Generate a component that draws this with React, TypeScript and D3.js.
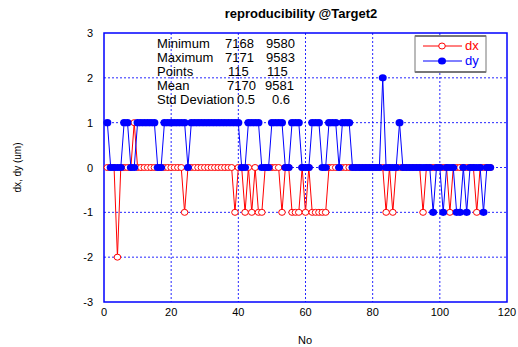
import React from "react";
import * as d3 from "d3";

// Sample numbers 1..115
const sampleNo: number[] = d3.range(1, 116);

// dx deviation per sample (um)
const dxValues: number[] = [
  0, 0, 0, -2, 0, 0, 0, 0, 1, 0, // 1-10
  0, 0, 0, 0, 0, 0, 0, 0, 0, 0, // 11-20
  0, 0, 0, -1, 0, 0, 0, 0, 0, 0, // 21-30
  0, 0, 0, 0, 0, 0, 0, 0, -1, 0, // 31-40
  0, -1, 0, -1, 0, -1, -1, 0, 0, 0, // 41-50
  0, 0, -1, 0, 0, -1, -1, -1, 0, -1, // 51-60
  0, -1, -1, -1, -1, -1, 0, 0, 0, 0, // 61-70
  0, 0, 0, 0, 0, 0, 0, 0, 0, 0, // 71-80
  0, 0, 0, -1, 0, -1, 0, 0, 0, 0, // 81-90
  0, 0, 0, 0, -1, 0, 0, 0, 0, 0, // 91-100
  0, 0, -1, 0, 0, 0, 0, 0, 0, 0, // 101-110
  -1, 0, 0, 0, 0, // 111-115
];

// dy deviation per sample (um)
const dyValues: number[] = [
  1, 0, 0, 0, 0, 1, 1, 0, 0, 1, // 1-10
  1, 1, 1, 1, 1, 0, 0, 1, 1, 1, // 11-20
  1, 1, 1, 1, 0, 1, 1, 1, 1, 1, // 21-30
  1, 1, 1, 1, 1, 1, 1, 1, 1, 1, // 31-40
  0, 0, 1, 1, 1, 1, 0, 0, 0, 1, // 41-50
  1, 1, 1, 0, 0, 1, 1, 1, 0, 0, // 51-60
  0, 1, 1, 1, 0, 0, 1, 1, 1, 0, // 61-70
  1, 1, 1, 0, 0, 0, 0, 0, 0, 0, // 71-80
  0, 0, 2, 0, 0, 0, 0, 1, 0, 0, // 81-90
  0, 0, 0, 0, 0, 0, 0, -1, 0, 0, // 91-100
  -1, 0, 0, 0, -1, -1, 0, -1, 0, 0, // 101-110
  0, 0, -1, 0, 0, // 111-115
];

const xTicks: number[] = [0, 20, 40, 60, 80, 100, 120];
const yTicks: number[] = [-3, -2, -1, 0, 1, 2, 3];

// Summary table: label, dx column, dy column
const statLabels: string[] = ["Minimum", "Maximum", "Points", "Mean", "Std Deviation"];
const statDx: string[] = ["7168", "7171", "115", "7170", "0.5"];
const statDy: string[] = ["9580", "9583", "115", "9581", "0.6"];

const W = 518;
const H = 347;
const plot = { left: 104, right: 507, top: 33, bottom: 302 };
const FONT = "Liberation Sans, Arial, sans-serif";
const BLUE = "#0000ff";
const RED = "#ff0000";

export default function App() {
  const x = d3.scaleLinear().domain([0, 120]).range([plot.left, plot.right]);
  const y = d3.scaleLinear().domain([-3, 3]).range([plot.bottom, plot.top]);

  const dxPts = sampleNo.map((n, i) => [n, dxValues[i]] as [number, number]);
  const dyPts = sampleNo.map((n, i) => [n, dyValues[i]] as [number, number]);
  const line = d3
    .line<[number, number]>()
    .x((d) => x(d[0]))
    .y((d) => y(d[1]));

  const statRowY = [48, 62, 76, 90, 104];
  const dxColX = [225, 225, 228, 227, 237];
  const dyColX = [266, 266, 267, 265, 272];

  return (
    <div style={{ position: "fixed", left: 0, top: 0 }}>
      <svg width={W} height={H} style={{ display: "block", background: "#fff" }} fontFamily={FONT}>
        <rect x={0} y={0} width={W} height={H} fill="#fff" />

        {/* grid */}
        {xTicks.slice(1, -1).map((t) => (
          <line key={"gx" + t} x1={x(t)} x2={x(t)} y1={plot.top} y2={plot.bottom}
            stroke={BLUE} strokeWidth={1} strokeDasharray="2,2" opacity={0.85} />
        ))}
        {yTicks.slice(1, -1).map((t) => (
          <line key={"gy" + t} x1={plot.left} x2={plot.right} y1={y(t)} y2={y(t)}
            stroke={BLUE} strokeWidth={1} strokeDasharray="2,2" opacity={0.85} />
        ))}

        {/* frame */}
        <rect x={plot.left} y={plot.top} width={plot.right - plot.left} height={plot.bottom - plot.top}
          fill="none" stroke={BLUE} strokeWidth={1.5} />

        {/* tick labels */}
        {xTicks.map((t) => (
          <text key={"tx" + t} x={x(t)} y={316} fontSize={11} textAnchor="middle" fill="#000">{t}</text>
        ))}
        {yTicks.map((t) => (
          <text key={"ty" + t} x={93} y={y(t) + 4} fontSize={11} textAnchor="end" fill="#000">{t}</text>
        ))}

        {/* axis titles */}
        <text x={305} y={344} fontSize={11} textAnchor="middle" fill="#000">No</text>
        <text transform={`translate(21,${(plot.top + plot.bottom) / 2}) rotate(-90)`} fontSize={10}
          textAnchor="middle" fill="#000">dx, dy (um)</text>
        <text x={301} y={18} fontSize={13} fontWeight="bold" textAnchor="middle" fill="#000">
          reproducibility @Target2
        </text>

        {/* statistics */}
        {statLabels.map((s, i) => (
          <g key={"st" + i} fontSize={13} fill="#000">
            <text x={157} y={statRowY[i]}>{s}</text>
            <text x={dxColX[i]} y={statRowY[i]}>{statDx[i]}</text>
            <text x={dyColX[i]} y={statRowY[i]}>{statDy[i]}</text>
          </g>
        ))}

        {/* dx series */}
        <path d={line(dxPts) || ""} fill="none" stroke={RED} strokeWidth={1} />
        {dxPts.map((p, i) => (
          <ellipse key={"dx" + i} cx={x(p[0])} cy={y(p[1])} rx={3.3} ry={3} fill="#fff" stroke={RED} strokeWidth={1} />
        ))}

        {/* dy series */}
        <path d={line(dyPts) || ""} fill="none" stroke={BLUE} strokeWidth={1} />
        {dyPts.map((p, i) => (
          <ellipse key={"dy" + i} cx={x(p[0])} cy={y(p[1])} rx={4} ry={3.6} fill={BLUE} />
        ))}

        {/* legend */}
        <g>
          <rect x={415} y={36} width={71} height={36} fill="#fff" stroke="#777" strokeWidth={1} />
          <line x1={415} x2={486} y1={36} y2={36} stroke="#777" strokeWidth={2} />
          <line x1={415} x2={486} y1={72} y2={72} stroke="#777" strokeWidth={2} />
          <line x1={423} x2={462} y1={46} y2={46} stroke={RED} strokeWidth={1} />
          <ellipse cx={442} cy={46} rx={3.3} ry={3} fill="#fff" stroke={RED} strokeWidth={1} />
          <text x={465} y={50} fontSize={13} fill={RED}>dx</text>
          <line x1={423} x2={462} y1={61} y2={61} stroke={BLUE} strokeWidth={1} />
          <ellipse cx={442} cy={61} rx={4} ry={3.6} fill={BLUE} />
          <text x={465} y={65} fontSize={13} fill={BLUE}>dy</text>
        </g>
      </svg>
    </div>
  );
}
